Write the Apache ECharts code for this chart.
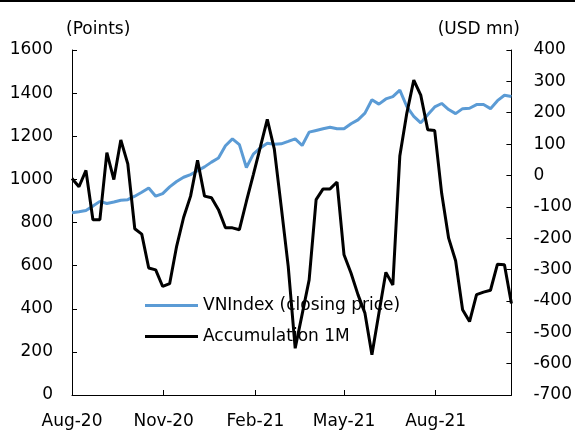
<!DOCTYPE html>
<html>
<head>
<meta charset="utf-8">
<script src="https://cdn.jsdelivr.net/npm/echarts@6/dist/echarts.min.js"></script>
<style>html,body{margin:0;padding:0;background:#fff}#c{width:575px;height:430px}</style>
</head>
<body>
<div id="c"></div>
<script>
// Weekly observation dates
const dates = [
  '2020-08-07','2020-08-14','2020-08-21','2020-08-28','2020-09-04','2020-09-11','2020-09-18','2020-09-25',
  '2020-10-02','2020-10-09','2020-10-16','2020-10-23','2020-10-30','2020-11-06','2020-11-13','2020-11-20',
  '2020-11-27','2020-12-04','2020-12-11','2020-12-18','2020-12-25','2021-01-01','2021-01-08','2021-01-15',
  '2021-01-22','2021-01-29','2021-02-05','2021-02-12','2021-02-19','2021-02-26','2021-03-05','2021-03-12',
  '2021-03-19','2021-03-26','2021-04-02','2021-04-09','2021-04-16','2021-04-23','2021-04-30','2021-05-07',
  '2021-05-14','2021-05-21','2021-05-28','2021-06-04','2021-06-11','2021-06-18','2021-06-25','2021-07-02',
  '2021-07-09','2021-07-16','2021-07-23','2021-07-30','2021-08-06','2021-08-13','2021-08-20','2021-08-27',
  '2021-09-03','2021-09-10','2021-09-17','2021-09-24','2021-10-01','2021-10-08','2021-10-15','2021-10-22'
];
// VNIndex closing price (Points)
const vnIndex = [
  845, 850, 856, 876, 898, 888, 895, 903, 906, 922, 940, 960, 922, 934, 965, 990,
  1010, 1022, 1040, 1058, 1080, 1099, 1156, 1188, 1161, 1055, 1117, 1146, 1168, 1163, 1165, 1176,
  1188, 1157, 1219, 1227, 1235, 1242, 1235, 1235, 1258, 1276, 1307, 1369, 1349, 1373, 1384, 1414,
  1338, 1292, 1262, 1300, 1336, 1352, 1324, 1305, 1328, 1330, 1347, 1347, 1328, 1365, 1390, 1384
];
// Accumulation 1M (USD mn)
const accum1M = [
  -10, -36, 16, -141, -141, 73, -13, 113, 37, -170, -187, -295, -301, -354, -345, -226,
  -134, -66, 48, -66, -71, -109, -167, -167, -173, -83, 3, 90, 179, 85, -100, -290,
  -551, -442, -333, -77, -43, -43, -21, -253, -311, -380, -439, -572, -439, -309, -349, 62,
  198, 304, 256, 146, 143, -57, -200, -272, -428, -466, -380, -372, -366, -283, -285, -408
];
// X-axis tick labels and their dates
const xTickLabels = ['Aug-20', 'Nov-20', 'Feb-21', 'May-21', 'Aug-21'];
const xTickDates = ['2020-08-07', '2020-11-07', '2021-02-07', '2021-05-07', '2021-08-07'];
const seriesNames = ['VNIndex (closing price)', 'Accumulation 1M'];

function toDay(s) { const p = s.split('-').map(Number); return Math.round(Date.UTC(p[0], p[1] - 1, p[2]) / 86400000); }
const day0 = toDay(dates[0]);
const xDays = dates.map(d => toDay(d) - day0);
const tickDays = xTickDates.map(d => toDay(d) - day0);

const chart = echarts.init(document.getElementById('c'), null, { renderer: 'canvas' });
const font = 'DejaVu Sans';
const fs = 17;
chart.setOption({
  animation: false,
  backgroundColor: '#fff',
  textStyle: { fontFamily: font },
  grid: { left: 72, right: 59, top: 50, bottom: 34, containLabel: false },
  graphic: [
    { type: 'rect', shape: { x: 0, y: 0, width: 575, height: 2 }, style: { fill: '#000' } },
    { type: 'text', left: 66, top: 21, style: { text: '(Points)', font: fs + 'px "DejaVu Sans"', fill: '#000' } },
    { type: 'text', right: 55, top: 21, style: { text: '(USD mn)', font: fs + 'px "DejaVu Sans"', fill: '#000' } }
  ],
  legend: {
    orient: 'vertical', left: 140, top: 292, itemWidth: 53, itemHeight: 3, itemGap: 14, z: 1,
    icon: 'rect',
    textStyle: { fontFamily: font, fontSize: fs, color: '#000', lineHeight: 17 },
    data: [
      { name: seriesNames[0], icon: 'rect', itemStyle: { color: '#5b9bd5' } },
      { name: seriesNames[1], icon: 'rect', itemStyle: { color: '#000' } }
    ]
  },
  xAxis: {
    type: 'value',
    min: 0, max: xDays[xDays.length - 1],
    axisLine: { lineStyle: { color: '#000', width: 1 } },
    axisTick: { inside: true, length: 5, customValues: tickDays, lineStyle: { color: '#000' } },
    axisLabel: {
      customValues: tickDays, margin: 18, color: '#000', fontSize: fs, fontFamily: font,
      formatter: function (v) {
        let best = 0, bd = Infinity;
        tickDays.forEach((t, i) => { const d = Math.abs(t - v); if (d < bd) { bd = d; best = i; } });
        return xTickLabels[best];
      }
    },
    splitLine: { show: false }
  },
  yAxis: [
    {
      type: 'value', min: 0, max: 1600, interval: 200, position: 'left',
      axisLine: { show: true, lineStyle: { color: '#000', width: 1 } },
      axisTick: { show: true, inside: true, length: 5, lineStyle: { color: '#000' } },
      axisLabel: { margin: 19, color: '#000', fontSize: fs, fontFamily: font, formatter: v => String(v) },
      splitLine: { show: false }
    },
    {
      type: 'value', min: -700, max: 400, interval: 100, position: 'right',
      axisLine: { show: true, lineStyle: { color: '#000', width: 1 } },
      axisTick: { show: true, inside: true, length: 5, lineStyle: { color: '#000' } },
      axisLabel: { margin: 22, color: '#000', fontSize: fs, fontFamily: font, formatter: v => String(v) },
      splitLine: { show: false }
    }
  ],
  series: [
    {
      name: seriesNames[0], type: 'line', yAxisIndex: 0, symbol: 'none', z: 3,
      lineStyle: { color: '#5b9bd5', width: 3 }, itemStyle: { color: '#5b9bd5' },
      data: xDays.map((x, i) => [x, vnIndex[i]])
    },
    {
      name: seriesNames[1], type: 'line', yAxisIndex: 1, symbol: 'none', z: 4,
      lineStyle: { color: '#000', width: 3 }, itemStyle: { color: '#000' },
      data: xDays.map((x, i) => [x, accum1M[i]])
    }
  ]
});
</script>
</body>
</html>
